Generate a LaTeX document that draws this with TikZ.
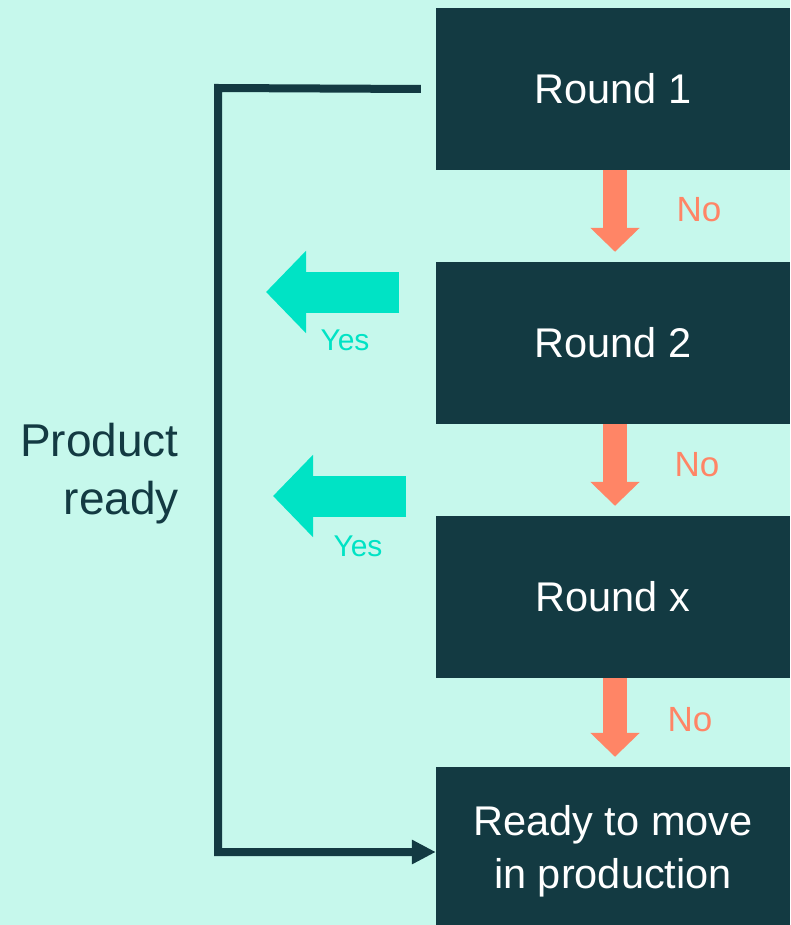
\documentclass[tikz,border=0pt]{standalone}
\usepackage{fontspec}
\setmainfont{Liberation Sans}
\usetikzlibrary{arrows.meta}
\definecolor{mint}{HTML}{C6F8EC}
\definecolor{deep}{HTML}{133A42}
\definecolor{salmon}{HTML}{FF8566}
\definecolor{aqua}{HTML}{00E3C5}
\begin{document}
\begin{tikzpicture}[x=1pt,y=-1pt,
  round/.style={fill=deep,text=white,minimum width=354pt,minimum height=162pt,
    inner sep=0pt,align=center,font=\fontsize{41.5}{53}\selectfont},
  noarrow/.style={salmon,line width=24pt,-{Triangle[width=48pt,length=24pt]},shorten >=10pt},
  yesarrow/.style={aqua,line width=41pt,-{Triangle[width=80pt,length=40pt]}},
  nolbl/.style={text=salmon,inner sep=0pt,font=\fontsize{35}{42}\selectfont},
  yeslbl/.style={text=aqua,inner sep=0pt,font=\fontsize{30}{36}\selectfont},
  backline/.style={deep,line width=8pt,-{Triangle[width=23pt,length=24pt]}}]
  \fill [mint] (0,0) rectangle (790,925);
  \useasboundingbox (0,0) rectangle (790,925);

  \node [round] (r1)   at (613,89)  {Round 1};
  \node [round] (r2)   at (613,343) {Round 2};
  \node [round] (rx)   at (613,597) {Round x};
  \node [round] (prod) at (613,848) {\strut Ready to move\\in production};

  \draw [noarrow] ([xshift=2pt]r1.south) -- ([xshift=2pt]r2.north);
  \draw [noarrow] ([xshift=2pt]r2.south) -- ([xshift=2pt]rx.north);
  \draw [noarrow] ([xshift=2pt]rx.south) -- ([xshift=2pt]prod.north);
  \node [nolbl] (no1) at (699,210) {No};
  \node [nolbl] (no2) at (697,465) {No};
  \node [nolbl] (no3) at (690,720) {No};

  \coordinate (y1a) at (399,292);
  \coordinate (y1b) at (266,292);
  \coordinate (y2a) at (406,496);
  \coordinate (y2b) at (273,496);
  \draw [yesarrow] (y1a) -- (y1b);
  \draw [yesarrow] (y2a) -- (y2b);
  \node [yeslbl] (yes1) at (345,340) {Yes};
  \node [yeslbl] (yes2) at (358,546) {Yes};

  \coordinate (corner) at (218,88);
  \draw [backline] ([xshift=-15pt]r1.west) -- (corner) |- ([yshift=-4pt]prod.west);
  \node [anchor=east,align=right,inner sep=0pt,text=deep,
    font=\fontsize{46}{58}\selectfont] (ready) at (179,474) {Product\\ready};
\end{tikzpicture}
\end{document}
